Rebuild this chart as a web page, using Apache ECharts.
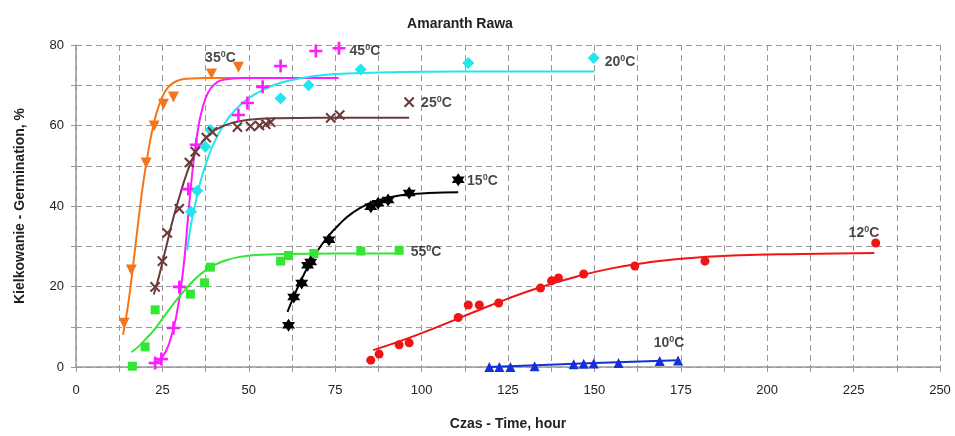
<!DOCTYPE html>
<html>
<head>
<meta charset="utf-8">
<script src="https://cdn.jsdelivr.net/npm/echarts@6/dist/echarts.min.js"></script>
<style>html,body{margin:0;padding:0;background:#fff}#c{width:955px;height:436px}</style>
</head>
<body>
<div id="c"></div>
<script>
// ---- data (x = hours, y = germination %) ----
const title = 'Amaranth Rawa';
const xName = 'Czas - Time, hour';
const yName = 'Kielkowanie - Germination, %';
const xTicks = [0, 25, 50, 75, 100, 125, 150, 175, 200, 225, 250];
const yTicks = [0, 20, 40, 60, 80];

// 35 C
const pts35 = [[13.9,10.9],[16.0,24.1],[20.3,50.7],[22.6,59.9],[25.3,65.3],[28.2,67.1],[39.2,72.8],[47.0,74.5]];
const fit35 = [[13.6,8],[15,15],[16.5,25],[18,36],[19.5,46],[21,54],[22.5,60.5],[24,65],[25.5,68],[27,69.8],[29,71],[32,71.6],[38,71.8],[47,71.8]];
// 45 C
const pts45 = [[22.9,1.0],[24.7,2.0],[28.2,9.7],[29.9,19.9],[32.5,44.2],[34.8,55.2],[47.0,62.6],[49.6,65.6],[54.0,69.6],[59.2,74.8],[69.4,78.5],[76.1,79.2]];
const fit45 = [[22.5,0.8],[25,2.5],[27,6],[29,12.5],[31,24],[32.5,38],[33.5,47],[34.5,54.5],[35.5,60],[36.5,64],[38,67.8],[40,70.2],[43,71.4],[48,71.8],[76,71.8]];
// 20 C
const pts20 = [[33.3,38.6],[35.1,43.8],[37.4,54.7],[38.9,58.9],[59.2,66.8],[67.3,70.0],[82.4,73.9],[113.5,75.5],[149.8,76.8]];
const fit20 = [[32.2,29],[33,34],[34,38.5],[35,42.5],[36,46],[38,51.5],[40,55.8],[43,60.5],[46,63.8],[50,66.8],[55,69.2],[60,70.8],[67,72],[75,72.8],[90,73.2],[110,73.4],[150,73.4]];
// 25 C
const pts25 = [[22.9,19.9],[25.0,26.3],[26.4,33.3],[29.9,39.3],[32.8,50.8],[34.5,53.5],[37.7,57.0],[39.5,58.4],[46.7,59.6],[50.5,59.8],[53.1,60.0],[54.9,60.3],[56.3,60.8],[73.7,61.9],[76.3,62.6],[96.4,65.8]];
const fit25 = [[22.5,18],[24,22.5],[26,29.5],[28,36.5],[30,42.5],[32,48],[34,52.3],[36,55.3],[38,57.3],[41,59.2],[45,60.6],[50,61.4],[58,61.8],[70,61.9],[96.4,61.9]];
// 55 C
const pts55 = [[16.3,0.2],[20.0,5.0],[22.9,14.2],[33.1,18.1],[37.2,20.9],[38.9,24.8],[59.2,26.3],[61.5,27.7],[68.8,28.2],[82.4,28.8],[93.5,29.0]];
const fit55 = [[16,3.7],[18,5],[20,6.8],[22.5,9.1],[25,12],[27.5,14.9],[30,17.6],[32.5,20.1],[35,22.3],[37.5,24],[40,25.3],[43,26.4],[47,27.3],[52,27.8],[60,28.1],[75,28.2],[93.5,28.2]];
// 15 C
const pts15 = [[61.5,10.4],[63.0,17.4],[65.3,20.9],[67.0,25.3],[67.9,26.1],[73.2,31.6],[85.3,39.8],[87.4,40.7],[90.3,41.5],[96.4,43.2],[110.6,46.5]];
const fit15 = [[61.2,13.7],[63,17.5],[65,21.3],[67,24.7],[70,29],[73,32.5],[76,35.3],[80,38.3],[85,40.7],[90,42],[95,42.8],[102,43.2],[110.6,43.4]];
// 12 C
const pts12 = [[85.3,1.7],[87.7,3.2],[93.5,5.5],[96.4,6.0],[110.6,12.3],[113.5,15.4],[116.7,15.4],[122.3,15.9],[134.4,19.6],[137.6,21.4],[139.6,22.1],[146.9,23.1],[161.7,25.1],[182.0,26.3],[231.4,30.8]];
const fit12 = [[86,4.2],[95,6.8],[105,10.1],[115,13.6],[125,17.0],[135,20.0],[145,22.5],[155,24.5],[165,25.9],[175,26.9],[190,27.7],[210,28.1],[231,28.3]];
// 10 C
const pts10 = [[119.6,0.0],[122.5,0.0],[125.7,0.0],[132.7,0.2],[144.0,0.7],[146.9,0.8],[149.8,0.9],[157.0,1.0],[168.9,1.5],[174.2,1.6]];
const fit10 = [[119.6,0.0],[135,0.5],[150,1.0],[174.2,1.7]];

// temperature labels: [x, y, temperature]
const tempLabels = [[41.8,76.8,'35'],[83.6,78.5,'45'],[157.4,75.8,'20'],[104.3,65.6,'25'],[117.6,46.2,'15'],[101.3,28.6,'55'],[228.0,33.3,'12'],[171.6,6.0,'10']];

// ---- symbols ----
const PLUS = 'path://M4,0H6V4H10V6H6V10H4V6H0V4H4Z';
const XSYM = 'path://M4.2,0H5.8V4.2H10V5.8H5.8V10H4.2V5.8H0V4.2H4.2Z';
const STAR6 = 'path://M10,0L12.89,5L18.66,5L15.77,10L18.66,15L12.89,15L10,20L7.11,15L1.34,15L4.23,10L1.34,5L7.11,5Z';

const groups = [
  {pts: pts35, fit: fit35, color: '#F5761A', symbol: 'triangle', rot: 180, size: 11},
  {pts: pts45, fit: fit45, color: '#FF1AFF', symbol: PLUS, rot: 0, size: 13},
  {pts: pts20, fit: fit20, color: '#22E6EE', symbol: 'diamond', rot: 0, size: 12},
  {pts: pts25, fit: fit25, color: '#6B3A3A', symbol: XSYM, rot: 45, size: 13},
  {pts: pts55, fit: fit55, color: '#33E633', symbol: 'rect', rot: 0, size: 9},
  {pts: pts15, fit: fit15, color: '#000000', symbol: STAR6, rot: 0, size: 13},
  {pts: pts12, fit: fit12, color: '#F01414', symbol: 'circle', rot: 0, size: 9},
  {pts: pts10, fit: fit10, color: '#1530D8', symbol: 'triangle', rot: 0, size: 10}
];

const series = [];
groups.forEach(g => {
  series.push({type: 'line', data: g.fit, smooth: 0.5, showSymbol: false, symbol: 'none',
    lineStyle: {color: g.color, width: 2}, z: 2, silent: true});
});
groups.forEach(g => {
  series.push({type: 'scatter', data: g.pts, symbol: g.symbol, symbolRotate: g.rot, symbolSize: g.size,
    itemStyle: {color: g.color, opacity: 1}, z: 3, silent: true});
});
series.push({type: 'scatter', data: tempLabels.map(t => ({value: [t[0], t[1]], name: t[2]})), symbolSize: 0, z: 5, silent: true,
  label: {show: true, position: 'inside', align: 'center', verticalAlign: 'middle',
    formatter: p => '{a|' + p.name + '}{s|0}{a|C}',
    rich: {a: {fontFamily: 'Liberation Sans, Arial', fontWeight: 'bold', fontSize: 14, color: '#1a1a1a'},
           s: {fontFamily: 'Liberation Sans, Arial', fontWeight: 'bold', fontSize: 9, color: '#1a1a1a', verticalAlign: 'top', padding: [0, 0, 7, 0]}}}});

const chart = echarts.init(document.getElementById('c'), null, {renderer: 'canvas'});
chart.setOption({
  animation: false,
  backgroundColor: '#fff',
  title: {text: title, left: 455, top: 12, textAlign: 'center',
    textStyle: {fontFamily: 'Liberation Sans, Arial', fontWeight: 'bold', fontSize: 14, color: '#222'}},
  grid: {left: 76, right: 15, top: 45, bottom: 69},
  xAxis: {type: 'value', min: 0, max: 250, interval: 12.5,
    name: xName, nameLocation: 'middle', nameGap: 50,
    nameTextStyle: {fontFamily: 'Liberation Sans, Arial', fontWeight: 'bold', fontSize: 14, color: '#222'},
    axisLine: {show: true, lineStyle: {color: '#999', width: 1.5}},
    axisTick: {show: true, length: 5, lineStyle: {color: '#999'}},
    axisLabel: {fontFamily: 'Liberation Sans, Arial', fontSize: 13, color: '#222', margin: 17,
      formatter: v => xTicks.indexOf(v) >= 0 ? String(v) : ''},
    splitLine: {show: true, lineStyle: {color: '#9a9a9a', type: [6, 4], width: 1}}},
  yAxis: {type: 'value', min: 0, max: 80, interval: 10,
    name: yName, nameLocation: 'middle', nameGap: 49,
    nameTextStyle: {fontFamily: 'Liberation Sans, Arial', fontWeight: 'bold', fontSize: 14, color: '#222'},
    axisLine: {show: true, lineStyle: {color: '#999', width: 1.5}},
    axisTick: {show: true, length: 5, lineStyle: {color: '#999'}},
    axisLabel: {fontFamily: 'Liberation Sans, Arial', fontSize: 13, color: '#222', margin: 12,
      formatter: v => yTicks.indexOf(v) >= 0 ? String(v) : ''},
    splitLine: {show: true, lineStyle: {color: '#9a9a9a', type: [6, 4], width: 1}}},
  series: series
});
</script>
</body>
</html>
